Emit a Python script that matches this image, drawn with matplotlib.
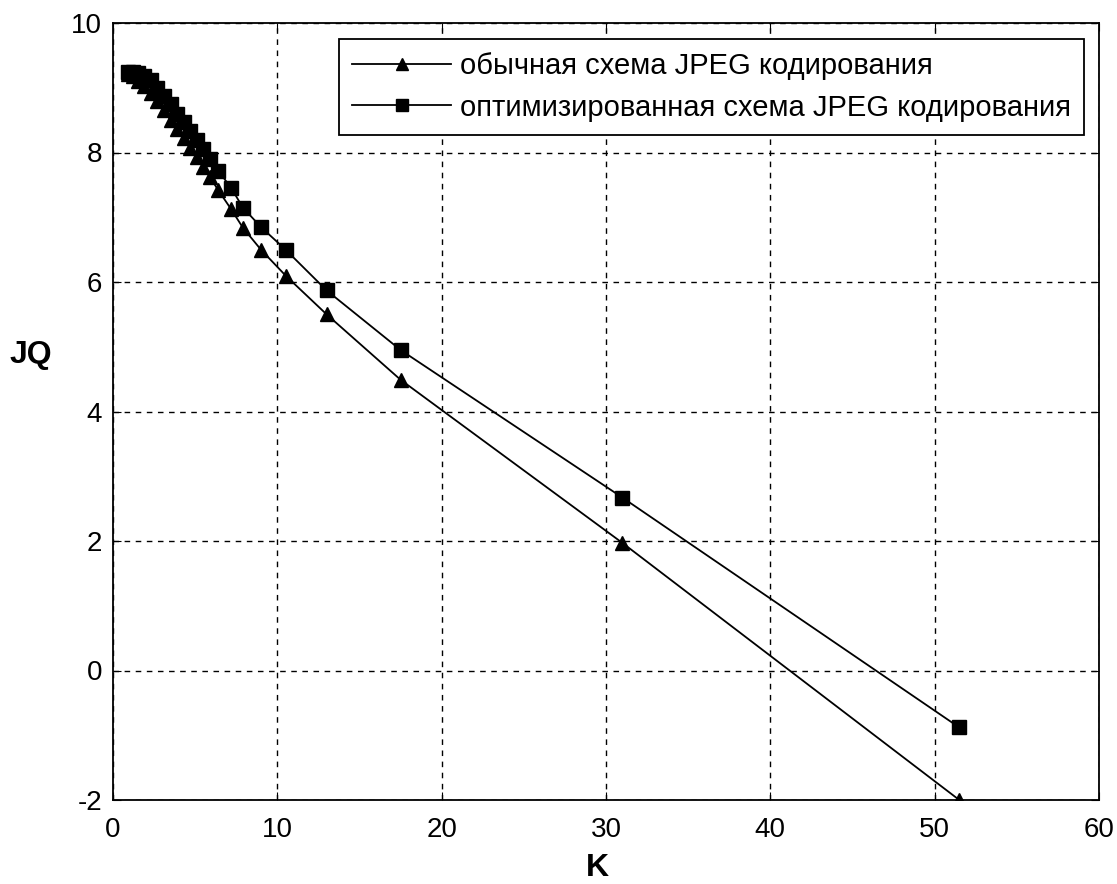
import numpy as np
import matplotlib.pyplot as plt

plt.rcParams['font.family'] = ['Liberation Sans', 'DejaVu Sans']
plt.rcParams['axes.unicode_minus'] = False

# compression ratio K and quality JQ
k_vals = [0.9, 1.2, 1.5, 1.9, 2.3, 2.7, 3.1, 3.5, 3.9, 4.3, 4.7, 5.1, 5.5,
          5.9, 6.4, 7.2, 7.9, 9.0, 10.5, 13.0, 17.5, 31.0, 51.5]
jq_usual = [9.22, 9.18, 9.10, 9.02, 8.92, 8.80, 8.65, 8.50, 8.36, 8.22, 8.07,
            7.93, 7.78, 7.62, 7.42, 7.12, 6.84, 6.50, 6.10, 5.50, 4.49, 1.97, -2.0]
jq_opt = [9.25, 9.25, 9.23, 9.18, 9.12, 9.00, 8.88, 8.75, 8.60, 8.47, 8.33,
          8.20, 8.05, 7.90, 7.72, 7.45, 7.15, 6.85, 6.50, 5.87, 4.95, 2.67, -0.88]

labels = ['обычная схема JPEG кодирования',
          'оптимизированная схема JPEG кодирования']

fig = plt.figure(figsize=(11.17, 8.84), dpi=100)
ax = fig.add_axes([113/1117, 1 - 800/884, (1099-113)/1117, (800-23)/884])

ax.plot(k_vals, jq_usual, '-^', color='black', lw=1.3, ms=10.5, label=labels[0])
ax.plot(k_vals, jq_opt, '-s', color='black', lw=1.3, ms=10.5, label=labels[1])

ax.set_xlim(0, 60)
ax.set_ylim(-2, 10)
ax.set_xticks(np.arange(0, 61, 10))
ax.set_yticks(np.arange(-2, 11, 2))
ax.grid(True, color='black', linestyle=(0, (4, 4)), lw=1)
ax.tick_params(direction='in', top=True, right=True, labelsize=20, length=6)
ax.tick_params(axis='x', pad=12)
ax.tick_params(axis='y', pad=8)
for s in ax.spines.values():
    s.set_linewidth(1.3)

ax.set_xlabel('K', fontsize=23, fontweight='bold', va='center')
ax.xaxis.set_label_coords(0.491, -0.088)
ax.set_ylabel('JQ', fontsize=23, fontweight='bold', rotation=0, va='center', ha='center')
ax.yaxis.set_label_coords(-0.083, 0.573)

leg = ax.legend(loc='upper right', fontsize=21, fancybox=False, framealpha=1,
                edgecolor='black', handlelength=3.4, handletextpad=0.3,
                borderpad=0.45, labelspacing=0.45, markerscale=0.8,
                bbox_to_anchor=(0.985, 0.979), borderaxespad=0)
leg.get_frame().set_linewidth(1.3)

fig.savefig('out.png', dpi=100)
